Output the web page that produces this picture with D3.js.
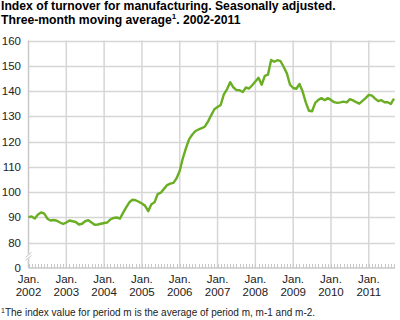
<!DOCTYPE html>
<html><head><meta charset="utf-8">
<script src="https://cdn.jsdelivr.net/npm/d3@7"></script>
<style>
body{margin:0;background:#fff;}
svg{display:block;font-family:"Liberation Sans",Arial,sans-serif;}
</style></head>
<body><svg id="c" width="400" height="320"></svg>
<script>
const titleLines = ["Index of turnover for manufacturing. Seasonally adjusted.", "Three-month moving average"];
const titleTail = ". 2002-2011";
const footnote = "The index value for period m is the average of period m, m-1 and m-2.";
const startYear = 2002;
const yearLabels = ["2002","2003","2004","2005","2006","2007","2008","2009","2010","2011"];
const yTicks = [70,80,90,100,110,120,130,140,150,160];
const yTickLabels = ["0","80","90","100","110","120","130","140","150","160"];
// monthly values Jan 2002 - Sep 2011
const values = [
 90.1,90.4,89.6,91.2,92.0,91.5,89.5,88.8,89.0,88.7,88.0,87.4,
 88.0,88.8,88.5,88.2,87.2,87.5,88.5,88.9,88.0,87.1,87.2,87.5,
 87.8,88.0,89.2,89.8,90.0,89.5,91.8,94.0,96.0,97.0,96.8,96.2,
 95.5,94.6,92.5,95.2,96.0,99.2,99.8,101.3,102.8,103.4,103.7,105.5,
 108.5,113.5,117.5,121.0,122.8,124.2,124.8,125.3,126.0,128.0,130.5,132.8,
 133.7,134.5,138.7,140.7,143.5,141.5,140.4,140.3,139.6,141.4,141.0,142.3,
 143.8,145.3,142.5,146.0,146.5,152.3,151.6,152.2,151.8,149.5,147.0,142.5,
 141.2,140.9,142.8,139.8,135.5,132.2,132.0,135.3,136.5,137.2,136.4,137.2,
 136.5,135.6,135.3,135.5,135.8,135.5,136.8,136.3,135.6,135.0,136.1,137.2,
 138.5,138.2,137.0,136.0,136.4,135.6,135.6,134.9,137.0
];

const svg = d3.select("#c");
const L = 28.5, R = 394, T = 40.5, B = 268;
const x = d3.scaleLinear().domain([0, values.length-1]).range([L, R]);
const y = d3.scaleLinear().domain([70,160]).range([B, T]);
const grid = "#d6d6d6";

// title
const t = svg.append("text").attr("font-weight","bold").attr("font-size",12.2).attr("fill","#000");
t.append("tspan").attr("x",1).attr("y",10).text(titleLines[0]);
const t2 = t.append("tspan").attr("x",1).attr("y",24).text(titleLines[1]);
t.append("tspan").attr("font-size",8).attr("dy",-5).text("1");
t.append("tspan").attr("dy",5).text(titleTail);

// horizontal gridlines
svg.append("g").selectAll("line").data(yTicks.filter(v=>v>70)).join("line")
  .attr("x1",L).attr("x2",R+1).attr("y1",d=>Math.round(y(d))+0.5).attr("y2",d=>Math.round(y(d))+0.5)
  .attr("stroke",grid).attr("stroke-width",1.5);
// vertical year gridlines
const yearIdx = yearLabels.map((d,i)=>i*12);
svg.append("g").selectAll("line").data(yearIdx.slice(1)).join("line")
  .attr("x1",d=>x(d)).attr("x2",d=>x(d)).attr("y1",T).attr("y2",B)
  .attr("stroke",grid).attr("stroke-width",1.5);

// axes lines
svg.append("line").attr("x1",L).attr("x2",L).attr("y1",T).attr("y2",B).attr("stroke","#c8c8c8").attr("stroke-width",1.5);
svg.append("line").attr("x1",L).attr("x2",R+1).attr("y1",B).attr("y2",B).attr("stroke","#c8c8c8").attr("stroke-width",1.5);
// monthly minor ticks
svg.append("g").selectAll("line").data(d3.range(0, values.length)).join("line")
  .attr("x1",d=>Math.round(x(d))+0.5).attr("x2",d=>Math.round(x(d))+0.5).attr("y1",B-4).attr("y2",B)
  .attr("stroke","#c8c8c8").attr("stroke-width",1);
// axis break
const by = (y(80)+y(70))/2 + 1;
svg.append("rect").attr("x",L-4).attr("y",by-2).attr("width",8).attr("height",4).attr("fill","#fff");
[-1.5,1.5].forEach(o=>{
  svg.append("line").attr("x1",L-3).attr("x2",L+3).attr("y1",by+o+2.5).attr("y2",by+o-2.5)
   .attr("stroke","#c8c8c8").attr("stroke-width",1);
});

// y labels
svg.append("g").selectAll("text").data(yTicks).join("text")
  .attr("x",21).attr("y",d=>y(d)+4).attr("text-anchor","end").attr("font-size",11.5).attr("fill","#222")
  .text((d,i)=>yTickLabels[i]);
// x labels
const xl = svg.append("g").selectAll("g").data(yearLabels).join("g");
xl.append("text").attr("x",(d,i)=>x(i*12)).attr("y",283).attr("text-anchor","middle").attr("font-size",11.5).attr("fill","#222").text("Jan.");
xl.append("text").attr("x",(d,i)=>x(i*12)).attr("y",296).attr("text-anchor","middle").attr("font-size",11.5).attr("fill","#222").text(d=>d);

// line
svg.append("path").datum(values)
  .attr("d", d3.line().x((d,i)=>x(i)).y(d=>y(d)))
  .attr("fill","none").attr("stroke","#6aae23").attr("stroke-width",2.4).attr("stroke-linejoin","round");

// footnote
const f = svg.append("text").attr("x",1).attr("y",316).attr("font-size",10).attr("fill","#222");
f.append("tspan").attr("font-size",7).attr("dy",-3).text("1");
f.append("tspan").attr("dy",3).text(footnote);
</script></body></html>
